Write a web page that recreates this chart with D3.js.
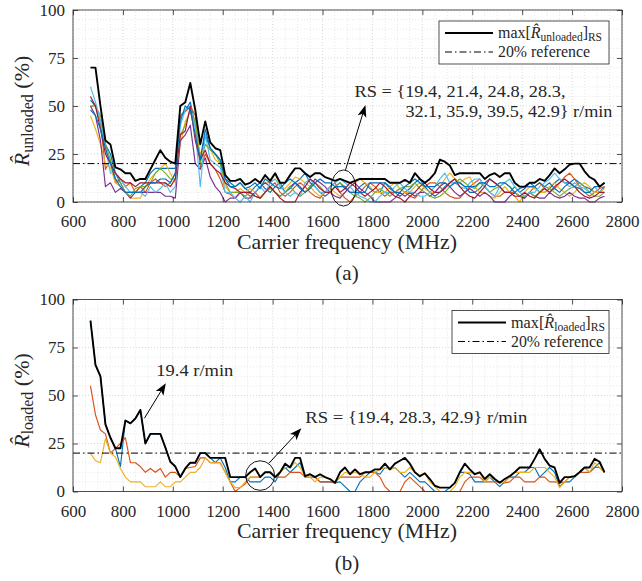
<!DOCTYPE html>
<html>
<head>
<meta charset="utf-8">
<script src="https://cdn.jsdelivr.net/npm/d3@7"></script>
<style>
  body { margin: 0; background: #fff; }
</style>
</head>
<body>
<div id="chart"></div>
<script>
// carrier frequencies (MHz), one per measurement point
var freqs = [670, 690, 710, 730, 750, 770, 790, 810, 830, 850, 870, 890, 910, 930, 950, 970,
  990, 1010, 1030, 1050, 1070, 1090, 1110, 1130, 1150, 1170, 1190, 1210, 1230, 1250, 1270, 1290,
  1310, 1330, 1350, 1370, 1390, 1410, 1430, 1450, 1470, 1490, 1510, 1530, 1550, 1570, 1590, 1610,
  1630, 1650, 1670, 1690, 1710, 1730, 1750, 1770, 1790, 1810, 1830, 1850, 1870, 1890, 1910, 1930,
  1950, 1970, 1990, 2010, 2030, 2050, 2070, 2090, 2110, 2130, 2150, 2170, 2190, 2210, 2230, 2250,
  2270, 2290, 2310, 2330, 2350, 2370, 2390, 2410, 2430, 2450, 2470, 2490, 2510, 2530, 2550, 2570,
  2590, 2610, 2630, 2650, 2670, 2690, 2710, 2730];

var xTicks = [600, 800, 1000, 1200, 1400, 1600, 1800, 2000, 2200, 2400, 2600, 2800];
var yTicks = [0, 25, 50, 75, 100];
var refLevel = 20;

// (a) unloaded, max over RS and the 8 rotation speeds
var unloadedMax = [70,70,50,32,30,18,17,15, 15,11,12,12,17,22,27,23, 21,20,50,52,62,48,30,42, 31,28,27,14,11,11,12,9,
  10,12,10,14,11,15,10,10, 14,17.5,17.5,15,13,15,15,13, 12,11,12,11,10,11,12,12, 12,12,12,12,10,10,10,11.5,
  10,15,12,10,12,15,22,21, 19,14,15,15,15,15,15,12, 14,15,13,15,15,10,8,8, 10,10,12,11,14,17.5,15,17,
  19.5,20,20,16,13,11.5,8,10];
var unloaded194 = [53,50,42,30,25,15,10,5, 5,5,8,10,15,17.5,17.5,17.5, 17.5,17.5,45,47.5,52,40,22,35, 28,25,22,12,10,8,10,7,
  5,8,10,7,5,8,10,5, 7,10,12,15,10,8,5,3, 5,8,10,7,5,5,8,10, 7,5,5,10,7,5,3,5,
  7,10,12,8,5,3,5,8, 10,12,10,8,5,5,7,10, 12,10,8,5,5,8,5,7, 10,8,5,5,7,10,12,10,
  10,12,10,8,7,5,5,8];
var unloaded214 = [50,50,42,17,22,10,12,8, 10,5,8,5,10,12,10,8, 10,15,45,47,50,45,18,25, 20,17,12,5,4,2,5,5,
  3,5,2,5,8,10,5,3, 5,8,10,8,5,3,2,5, 8,10,5,2,0,3,5,8, 10,8,5,3,5,5,7,5,
  3,2,5,8,10,10,8,5, 3,2,2,5,8,10,12,8, 5,3,3,5,5,5,3,2, 5,8,10,7,5,7,10,13,
  15,12,8,5,3,5,7,8];
var unloaded248 = [45,38,30,20,18,10,8,5, 2,2,2,8,12,15,17.5,20, 15,10,30,42,47,40,25,30, 28,22,20,8,5,5,7,5,
  7,5,8,10,10,15,8,7, 10,13,12,10,8,5,3,5, 7,5,3,5,8,10,12,10, 8,5,5,5,8,10,7,5,
  5,8,10,7,5,5,8,12, 15,12,10,12,13,8,5,5, 3,2,5,8,5,3,0,5, 8,7,5,5,8,10,7,5,
  3,5,8,10,8,5,5,7];
var unloaded283 = [50,45,32,8,10,5,7,5, 2,5,5,5,5,5,5,3, 3,2,32,35,40,20,17,23, 13,8,5,0,2,2,5,2,
  2,5,8,10,8,5,3,5, 8,10,8,5,8,12,10,8, 5,3,2,5,8,10,7,5, 3,0,0,0,0,2,5,3,
  5,3,5,5,3,5,8,10, 8,5,3,5,7,5,3,5, 3,0,0,0,3,5,3,2, 5,3,2,2,5,3,2,3,
  5,3,2,2,0,0,2,3];
var unloaded321 = [50,50,45,30,22,12,10,5, 3,7,8,8,10,15,17.5,15, 12,12,35,40,48,42,20,30, 27,25,20,10,5,5,5,3,
  5,3,2,5,7,5,3,5, 8,5,3,5,8,10,8,5, 5,8,10,8,5,3,2,0, 2,5,7,5,3,5,7,8,
  8,10,7,5,3,2,3,5, 8,10,12,10,8,7,10,8, 5,7,8,10,8,5,3,3, 5,3,5,8,7,5,3,5,
  7,8,10,8,5,3,3,5];
var unloaded359 = [60,52,42,28,15,15,12,8, 5,5,5,3,8,5,7,10, 5,8,40,48,50,38,8,35, 22,20,18,5,5,2,0,3,
  0,5,8,5,10,12,8,5, 3,5,3,10,12,8,5,5, 8,10,12,10,8,5,3,2, 0,0,3,5,5,8,10,7,
  5,5,3,3,5,8,12,15, 10,10,8,7,10,12,12,8, 5,3,8,10,12,8,5,3, 5,5,8,10,12,15,12,10,
  8,10,8,7,5,8,5,5];
var unloaded395 = [55,50,38,25,20,15,12,10, 10,8,10,10,10,10,10,10, 8,12,35,37,50,32,22,27, 20,17,15,10,8,7,5,5,
  5,3,2,5,8,5,2,0, 0,0,5,8,12,10,7,5, 5,8,5,7,10,8,5,3, 5,7,10,8,5,3,2,0,
  3,5,8,10,7,5,5,7, 10,12,8,5,3,2,5,8, 12,10,8,5,5,3,3,5, 3,2,5,7,5,8,10,12,
  10,8,5,3,2,3,5,5];
var unloaded429 = [48,45,38,28,20,12,8,5, 5,5,5,8,10,10,12,12, 10,15,42,50,48,35,22,38, 28,25,22,12,8,8,10,7,
  8,10,7,12,10,8,7,10, 12,10,7,5,7,10,12,10, 10,8,8,8,5,5,5,5, 10,10,10,10,8,5,5,8,
  10,12,10,8,8,8,10,10, 8,10,10,8,8,8,10,10, 8,8,10,10,8,5,7,8, 8,8,10,8,10,7,5,8,
  10,8,7,5,5,8,8,10];

// (b) loaded, max over RS and 3 rotation speeds
var loadedMax = [89,66,60,35,28,22.5,22.5,37, 35.5,38,42.5,25,30,30,30,23, 15.5,13,7.5,12,15,15,20,20,
  17.5,17.5,17.5,17.5,7.5,7.5,7.5,7.5, 10,12,7.5,10,10,7.5,10,14.5, 12.5,17.5,17.5,8,9,7.5,9,7.5,
  6.5,4.5,10,12.5,9,11.5,9,10, 10,11.5,11.5,14.5,11.5,14.5,16,17.5, 14.5,10,8,9.5,6.5,3,2,2,
  2,4.5,10,14.5,11.5,9,10,6.5, 9,6.5,4.5,6.5,8,10,12.5,12.5, 12.5,17,22,17,13.5,12.5,4.5,7.5,
  7.5,8,10,12.5,12.5,17,15.5,10];
var loaded194 = [89,66,60,35,28,22.5,13,37, 35.5,38,42.5,25,30,30,30,23, 15.5,13,7.5,12,15,15,20,20,
  17.5,15,17.5,12.5,5,5,7.5,7.5, 5,5,5,7.5,7.5,5,10,12.5, 10,12.5,15,7.5,9,7.5,5,5,
  5,4.5,5,2.5,0,0,5,7.5, 10,10,9,12.5,11.5,12.5,10,7.5, 10,7.5,5,5,2.5,0,0,0,
  2,4.5,10,10,9,5,5,5, 7.5,5,2.5,5,7.5,7.5,10,10, 12.5,12.5,7.5,10,12.5,10,2.5,5,
  5,7.5,10,12.5,10,12.5,15,10];
var loaded283 = [55,40,32,30,20,22.5,25,28, 15,15,13,10,12,10,12,7.5, 10,10,7.5,12,12.5,13,17.5,17.5,
  15,15,15,10,5,0,2,4, 7.5,7.5,7.5,10,10,7.5,7.5,7.5, 10,10,10,7.5,7.5,7.5,5,5,
  5,4.5,7.5,7.5,7.5,7.5,7.5,10, 10,10,7.5,2.5,0,0,0,5, 7.5,5,2.5,0,0,0,0,0,
  0,0,0,5,7.5,7.5,7.5,5, 5,5,5,4.5,5,7.5,7.5,5, 5,5,7.5,7.5,5,5,4.5,5,
  7.5,7.5,10,10,10,12.5,12.5,10];
var loaded429 = [20,16,15,27.5,20,18,12,7.5, 5,5,5,2.5,2.5,2.5,5,2.5, 2.5,5,5,7.5,10,10,12.5,17.5,
  15,15,15,10,5,2,2,5, 7.5,7.5,7.5,10,10,7.5,10,12.5, 12.5,15,12.5,8,7.5,5,7.5,7.5,
  6.5,4.5,7.5,10,9,10,9,7.5, 7.5,10,11.5,12.5,11.5,12.5,10,10, 12.5,10,7.5,9.5,5,2.5,0,0,
  0,2.5,7.5,10,10,9,10,5, 7.5,6.5,4.5,5,7.5,10,10,10, 10,12.5,12.5,12.5,10,7.5,2,5,
  7.5,8,10,12.5,10,15,12.5,10];

var matlabColors = ["#0072BD", "#D95319", "#EDB120", "#7E2F8E", "#77AC30", "#4DBEEE", "#A2142F", "#0072BD"];
var serif = "'Liberation Serif', serif";
var ink = "#262626";

var svg = d3.select("#chart").append("svg")
  .attr("width", 642)
  .attr("height", 581)
  .attr("font-family", serif);

var Panel = function(params) {
  var self = this;
  self.top = params.top;
  self.height = params.height;
  self.left = 73;
  self.right = 622;

  self.x = d3.scaleLinear().domain([600, 2800]).range([self.left, self.right]);
  self.y = d3.scaleLinear().domain([0, 100]).range([self.top + self.height, self.top]);
  var x = self.x, y = self.y;

  var g = svg.append("g");

  // minor + major grid, dotted
  var gx = d3.range(600, 2801, 50), gy = d3.range(0, 101, 5);
  g.append("g").selectAll("line").data(gx).enter().append("line")
    .attr("x1", d => x(d)).attr("x2", d => x(d))
    .attr("y1", y(0)).attr("y2", y(100))
    .attr("stroke", d => d % 200 == 0 ? "#bdbdbd" : "#d6d6d6")
    .attr("stroke-width", 0.6)
    .attr("stroke-dasharray", "1,2");
  g.append("g").selectAll("line").data(gy).enter().append("line")
    .attr("x1", x(600)).attr("x2", x(2800))
    .attr("y1", d => y(d)).attr("y2", d => y(d))
    .attr("stroke", d => d % 25 == 0 ? "#bdbdbd" : "#d6d6d6")
    .attr("stroke-width", 0.6)
    .attr("stroke-dasharray", "1,2");

  // data lines
  var line = d3.line().x((d, i) => x(freqs[i])).y(d => y(d));
  params.series.forEach(function(s, i) {
    g.append("path").attr("d", line(s))
      .attr("fill", "none")
      .attr("stroke", matlabColors[i])
      .attr("stroke-width", 1.15)
      .attr("stroke-linejoin", "round");
  });

  // 20% reference
  g.append("line")
    .attr("x1", x(600)).attr("x2", x(2800))
    .attr("y1", y(refLevel)).attr("y2", y(refLevel))
    .attr("stroke", "#000").attr("stroke-width", 1)
    .attr("stroke-dasharray", "7,3,1.5,3");

  g.append("path").attr("d", line(params.maxSeries))
    .attr("fill", "none")
    .attr("stroke", "#000")
    .attr("stroke-width", 1.9)
    .attr("stroke-linejoin", "round");

  // axes, ticks pointing inward
  var axB = g.append("g").attr("transform", "translate(0," + y(0) + ")")
    .call(d3.axisBottom(x).tickValues(xTicks).tickSize(-5).tickPadding(13).tickFormat(d3.format("d")));
  var axT = g.append("g").attr("transform", "translate(0," + y(100) + ")")
    .call(d3.axisTop(x).tickValues(xTicks).tickSize(-5).tickFormat(""));
  var axL = g.append("g").attr("transform", "translate(" + x(600) + ",0)")
    .call(d3.axisLeft(y).tickValues(yTicks).tickSize(-5).tickPadding(8));
  var axR = g.append("g").attr("transform", "translate(" + x(2800) + ",0)")
    .call(d3.axisRight(y).tickValues(yTicks).tickSize(-5).tickFormat(""));
  [axB, axT, axL, axR].forEach(function(a) {
    a.attr("font-family", serif).attr("font-size", 17);
    a.select(".domain").remove();
    a.selectAll("line").attr("stroke", ink).attr("stroke-width", 0.8);
    a.selectAll("text").attr("font-family", serif).attr("font-size", 17).attr("fill", ink);
  });
  axB.selectAll("text").attr("dy", "0.72em");

  g.append("rect")
    .attr("x", x(600)).attr("y", y(100))
    .attr("width", x(2800) - x(600)).attr("height", y(0) - y(100))
    .attr("fill", "none").attr("stroke", ink).attr("stroke-width", 0.8);

  // x label and panel tag
  g.append("text")
    .attr("x", 347).attr("y", y(0) + 46.5)
    .attr("text-anchor", "middle")
    .attr("font-family", serif).attr("font-size", 21).attr("fill", ink)
    .attr("textLength", 220).attr("lengthAdjust", "spacingAndGlyphs")
    .text("Carrier frequency (MHz)");
  g.append("text")
    .attr("x", 347).attr("y", y(0) + 78)
    .attr("text-anchor", "middle")
    .attr("font-family", serif).attr("font-size", 21).attr("fill", ink)
    .text(params.tag);

  // y label with hat R and subscript
  var yl = g.append("text")
    .attr("transform", "translate(29," + (self.top + self.height / 2 + 5) + ") rotate(-90)")
    .attr("text-anchor", "middle")
    .attr("font-family", serif).attr("font-size", 22).attr("fill", ink);
  yl.append("tspan").attr("font-style", "italic").text("R\u0302");
  yl.append("tspan").attr("font-size", 16).attr("dy", 4).text(params.sub);
  yl.append("tspan").attr("dy", -4).text(" (%)");

  // legend
  var lg = g.append("g");
  lg.append("rect")
    .attr("x", params.legX).attr("y", self.top + 11)
    .attr("width", 609 - params.legX).attr("height", 43)
    .attr("fill", "#fff").attr("stroke", ink).attr("stroke-width", 0.8);
  var l1 = self.top + 23, l2 = self.top + 42;
  lg.append("line").attr("x1", params.legX + 6).attr("x2", params.legX + 54)
    .attr("y1", l1).attr("y2", l1).attr("stroke", "#000").attr("stroke-width", 1.9);
  lg.append("line").attr("x1", params.legX + 6).attr("x2", params.legX + 54)
    .attr("y1", l2).attr("y2", l2).attr("stroke", "#000").attr("stroke-width", 1)
    .attr("stroke-dasharray", "7,3,1.5,3");
  var t1 = lg.append("text").attr("x", params.legX + 59).attr("y", l1 + 5)
    .attr("font-family", serif).attr("font-size", 16).attr("fill", ink)
    .attr("textLength", params.legW).attr("lengthAdjust", "spacingAndGlyphs");
  t1.append("tspan").text("max[");
  t1.append("tspan").attr("font-style", "italic").text("R\u0302");
  t1.append("tspan").attr("font-size", 11.5).attr("dy", 3).text(params.sub);
  t1.append("tspan").attr("dy", -3).text("]");
  t1.append("tspan").attr("font-size", 11.5).attr("dy", 3).text("RS");
  lg.append("text").attr("x", params.legX + 59).attr("y", l2 + 5)
    .attr("font-family", serif).attr("font-size", 16).attr("fill", ink)
    .attr("textLength", 92).attr("lengthAdjust", "spacingAndGlyphs")
    .text("20% reference");

  // annotations (data units)
  params.notes.forEach(function(n) {
    g.append("text").attr("x", x(n.f)).attr("y", y(n.v))
      .attr("font-family", serif).attr("font-size", 17).attr("fill", ink)
      .attr("textLength", n.w).attr("lengthAdjust", "spacingAndGlyphs")
      .text(n.text);
  });
  params.arrows.forEach(function(a) {
    var x1 = x(a[0]), y1 = y(a[1]), x2 = x(a[2]), y2 = y(a[3]);
    var ang = Math.atan2(y2 - y1, x2 - x1);
    var L = 12, W = 4.5;
    var bx = x2 - L * Math.cos(ang), by = y2 - L * Math.sin(ang);
    var nx = x2 - 0.75 * L * Math.cos(ang), ny = y2 - 0.75 * L * Math.sin(ang);
    g.append("line").attr("x1", x1).attr("y1", y1).attr("x2", nx).attr("y2", ny)
      .attr("stroke", "#000").attr("stroke-width", 1);
    var p = [[x2, y2],
      [bx - W * Math.sin(ang), by + W * Math.cos(ang)],
      [nx, ny],
      [bx + W * Math.sin(ang), by - W * Math.cos(ang)]];
    g.append("path").attr("d", "M" + p.join("L") + "Z").attr("fill", "#000");
  });
  params.ellipses.forEach(function(e) {
    g.append("ellipse")
      .attr("cx", x(e.f)).attr("cy", y(e.v))
      .attr("rx", x(e.f + e.df) - x(e.f)).attr("ry", y(0) - y(e.dv))
      .attr("fill", "none").attr("stroke", "#000").attr("stroke-width", 0.9);
  });
};

new Panel({
  top: 10, height: 192, tag: "(a)", sub: "unloaded", legX: 439, legW: 104,
  series: [unloaded194, unloaded214, unloaded248, unloaded283, unloaded321, unloaded359, unloaded395, unloaded429],
  maxSeries: unloadedMax,
  notes: [
    {f: 1728, v: 54.8, w: 211, text: "RS = {19.4, 21.4, 24.8, 28.3,"},
    {f: 1932, v: 44.1, w: 207, text: "32.1, 35.9, 39.5, 42.9} r/min"}
  ],
  arrows: [[1692, 16.7, 1772, 50.5]],
  ellipses: [{f: 1684, v: 7.3, df: 50, dv: 9.4}]
});

new Panel({
  top: 299.5, height: 192, tag: "(b)", sub: "loaded", legX: 452, legW: 94,
  series: [loaded194, loaded283, loaded429],
  maxSeries: loadedMax,
  notes: [
    {f: 934, v: 60.2, w: 77, text: "19.4 r/min"},
    {f: 1531, v: 35.5, w: 222, text: "RS = {19.4, 28.3, 42.9} r/min"}
  ],
  arrows: [[886, 38.1, 972, 56.4], [1385, 14.7, 1515, 32.9]],
  ellipses: [{f: 1350, v: 8.3, df: 58, dv: 7.7}]
});
</script>
</body>
</html>
